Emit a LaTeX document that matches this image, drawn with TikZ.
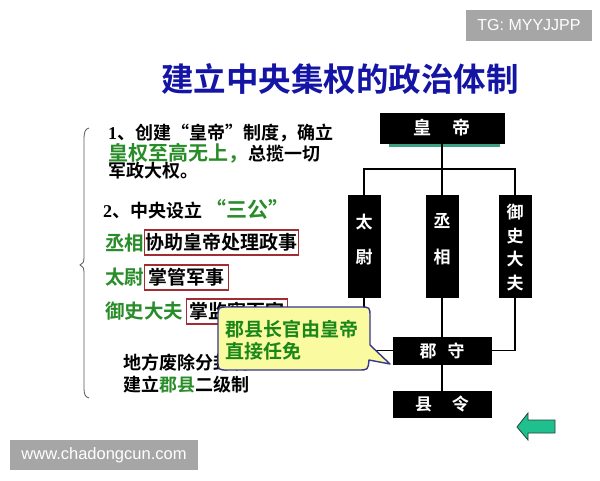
\documentclass[tikz,border=0pt]{standalone}
\usepackage{fontspec}
\setmainfont{Noto Sans CJK SC}[BoldFont={Noto Sans CJK SC Bold}]
\newfontfamily\serifnum{Liberation Serif}
\newfontfamily\lsans{Liberation Sans}
\definecolor{titleblue}{RGB}{20,20,165}
\definecolor{mygreen}{RGB}{40,140,40}
\definecolor{callgreen}{RGB}{25,135,25}
\definecolor{myred}{RGB}{160,45,50}
\definecolor{callfill}{RGB}{250,250,160}
\definecolor{callborder}{RGB}{55,55,140}
\definecolor{wmgrey}{RGB}{166,166,166}
\definecolor{tealshadow}{RGB}{60,160,130}
\definecolor{arrowfill}{RGB}{32,192,142}
\definecolor{arrowline}{RGB}{30,70,60}
\begin{document}
\begin{tikzpicture}[x=1pt,y=-1pt,
  txt/.style={anchor=west,inner sep=0pt,font=\bfseries\fontsize{18}{18}\selectfont},
  gtxt/.style={txt,text=mygreen,font=\bfseries\fontsize{19.5}{19.5}\selectfont},
  redbox/.style={draw=myred,line width=1.2pt,inner sep=0pt,minimum height=25pt,anchor=west,font=\bfseries\fontsize{19}{19}\selectfont},
  blkbox/.style={fill=black,draw=black,inner sep=0pt},
  wch/.style={text=white,inner sep=0pt,font=\bfseries\fontsize{17}{17}\selectfont},
  conn/.style={line width=1.5pt,draw=black},
  wmark/.style={fill=wmgrey,text=white,inner sep=0pt,font=\lsans\fontsize{16}{16}\selectfont}
]
\useasboundingbox (0,0) rectangle (600,480);
\fill[white] (0,0) rectangle (600,480);

% watermarks
\node[wmark,minimum width=126pt,minimum height=31pt] (tg) at (529,25) {TG: MYYJJPP};
\node[wmark,minimum width=188pt,minimum height=30pt,font=\lsans\fontsize{16.5}{16.5}\selectfont] (www) at (104,455) {www.chadongcun.com};

% title
\node[inner sep=0pt,text=titleblue,font=\bfseries\fontsize{32.5}{32.5}\selectfont] (title) at (340,79) {建立中央集权的政治体制};

% brace
\draw[draw=black!65,line width=0.8pt] (89,128) .. controls (85,129) and (84,132) .. (84,140) -- (84,257)
  .. controls (84,262) and (83,264) .. (80,265) .. controls (83,266) and (84,268) .. (84,273)
  -- (84,388) .. controls (84,394) and (85,397) .. (89,398);

% left texts
\node[txt] (l1) at (108,133) {{\serifnum\bfseries 1}、创建“皇帝”制度，确立};
\node[txt] (l2) at (108,153) {{\color{mygreen}\fontsize{20}{20}\selectfont 皇权至高无上，}总揽一切};
\node[txt] (l3) at (108,171) {军政大权。};
\node[txt] (l4) at (103,209) {{\serifnum\bfseries 2}、中央设立\,{\color{mygreen}\fontsize{21}{21}\selectfont “三公”}};

\node[gtxt] (g1) at (105,243) {丞相};
\node[redbox,minimum width=154pt] (r1) at (144,242.5) {协助皇帝处理政事};
\node[gtxt] (g2) at (105,277) {太尉};
\node[redbox,minimum width=84pt] (r2) at (144,277.5) {掌管军事};
\node[gtxt] (g3) at (105,311) {御史大夫};
\node[redbox,minimum width=101pt] (r3) at (186,311.5) {掌监察百官};

\node[txt] (b1) at (123,363) {地方废除分封制};
\node[txt] (b2) at (123,385) {建立{\color{mygreen}郡县}二级制};

% chart boxes
\node[blkbox,minimum width=124pt,minimum height=30pt] (emp) at (442,128) {};
\fill[tealshadow] (389,143.5) rectangle (500,147);
\node[wch,font=\bfseries\fontsize{18}{18}\selectfont] (empt) at (emp) {皇\hspace{22pt}帝};
\node[blkbox,minimum width=32pt,minimum height=102pt] (tw) at (364,246) {};
\node[blkbox,minimum width=32pt,minimum height=102pt] (cx) at (442,246) {};
\node[blkbox,minimum width=32pt,minimum height=102pt] (ys) at (515,246) {};
\node[wch] (tw1) at (364,222) {太};
\node[wch] (tw2) at (364,257) {尉};
\node[wch] (cx1) at (442,221) {丞};
\node[wch] (cx2) at (442,257) {相};
\node[wch] (ys1) at (515,212) {御};
\node[wch] (ys2) at (515,236) {史};
\node[wch] (ys3) at (515,259) {大};
\node[wch] (ys4) at (515,283) {夫};
\node[blkbox,minimum width=98pt,minimum height=27pt] (jun) at (442,350.5) {};
\node[wch] (junt) at (jun) {郡\hspace{11pt}守};
\node[blkbox,minimum width=98pt,minimum height=26pt] (xian) at (442,404) {};
\node[wch] (xiant) at (xian) {县\hspace{20pt}令};

% connectors
\coordinate (bar) at (442,169);
\draw[conn] (emp.south) -- (cx.north);
\draw[conn] (tw.north) -- (tw.north |- bar) -- (ys.north |- bar) -- (ys.north);
\draw[conn] (tw.south) |- (jun.west);
\draw[conn] (ys.south) |- (jun.east);
\draw[conn] (cx.south) -- (jun.north);
\draw[conn] (jun.south) -- (xian.north);

% callout
\draw[fill=callfill,draw=callborder,line width=1.4pt,line join=round]
  (228,307) -- (360,307) .. controls (370,307) .. (370,317) -- (370,345) -- (390,364) -- (369,360)
  .. controls (368,370) .. (358,370) -- (228,370) .. controls (218,370) .. (218,360)
  -- (218,317) .. controls (218,307) .. (228,307) -- cycle;
\node[txt,text=callgreen,font=\bfseries\fontsize{19}{19}\selectfont] (c1) at (225,329) {郡县长官由皇帝};
\node[txt,text=callgreen,font=\bfseries\fontsize{19}{19}\selectfont] (c2) at (225,351) {直接任免};

% back arrow
\draw[fill=arrowfill,draw=arrowline,line width=0.8pt,line join=miter]
  (517,427) -- (528,413) -- (528,420) -- (555,420) -- (555,433) -- (528,433) -- (528,440) -- cycle;
\end{tikzpicture}
\end{document}
